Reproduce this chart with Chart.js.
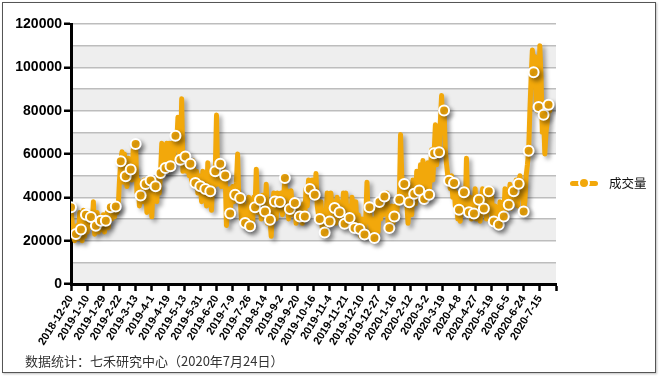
<!DOCTYPE html>
<html><head><meta charset="utf-8">
<script src="https://cdn.jsdelivr.net/npm/chart.js@4/dist/chart.umd.min.js"></script>
<style>
html,body{margin:0;padding:0;background:#fff;}
#wrap{position:relative;width:659px;height:378px;overflow:hidden;background:#fff;}
#c{position:absolute;left:0;top:0;}
#frame{position:absolute;left:2px;top:2px;width:652px;height:369px;border:1.5px solid #555;pointer-events:none;box-shadow:1px 1px 2px rgba(0,0,0,0.25);}
#footer{position:absolute;left:25px;top:352px;font-family:"Noto Sans CJK SC",sans-serif;font-size:13px;line-height:18px;color:#333;white-space:nowrap;}
#legend{position:absolute;left:570px;top:174px;height:18px;display:flex;align-items:center;}
#sym{position:relative;width:28px;height:18px;}
#sym .ln{position:absolute;left:0;top:6.5px;width:28px;height:5px;border-radius:2.5px;background:#F2A80B;}
#sym .pt{position:absolute;left:8px;top:3px;width:8px;height:8px;border-radius:50%;background:#F2A80B;border:2px solid #fff;}
#legtext{margin-left:11px;font-family:"Noto Sans CJK SC",sans-serif;font-size:12.5px;color:#111;line-height:18px;}
</style></head>
<body>
<div id="wrap">
<canvas id="c" width="659" height="378"></canvas>
<div id="frame"></div>
<div id="legend"><div id="sym"><div class="ln"></div><div class="pt"></div></div><span id="legtext"></span></div>
<div id="footer">数据统计：七禾研究中心（2020年7月24日）</div>
</div>
<script>
const seriesName = '成交量';
const tickLabels = ['2018-12-20','2019-1-10','2019-1-29','2019-2-22','2019-3-13','2019-4-1','2019-4-19','2019-5-13','2019-5-31','2019-6-20','2019-7-9','2019-7-26','2019-8-14','2019-9-2','2019-9-20','2019-10-16','2019-11-4','2019-11-21','2019-12-10','2019-12-27','2020-1-16','2020-2-12','2020-3-2','2020-3-19','2020-4-8','2020-4-27','2020-5-19','2020-6-5','2020-6-24','2020-7-15'];
const volume = [
35400,28000,22000,20000, 23100,27000,21000,33000, 25100,20000,34000,22000, 32000,24000,33000,26000,
30900,27000,38000,23000, 26900,33000,24000,31000, 29200,25000,32000,24000, 29200,33000,26000,34000,
35400,30000,36000,31000, 35800,33000,36000,48000, 56600,61000,47000,60000, 49700,45000,58000,52000,
52800,48000,62000,56000, 64600,42000,48000,36000, 40900,47000,38000,48000, 46100,33000,47000,36000,
47800,31000,45000,40000, 45100,38000,50000,42000, 51200,65000,50000,64000, 53500,65000,52000,65000,
54300,65000,55000,64000, 68400,65000,77000,58000, 57400,85500,52000,60000, 58900,52000,58000,50000,
55500,47000,57000,49000, 46600,52000,42000,50000, 45100,38000,52000,40000, 43800,36000,56000,40000,
42800,34000,50000,45000, 52000,78000,46000,56000, 55500,45000,54000,47000, 50100,27000,36000,44000,
32500,40000,45000,38000, 41200,47000,60000,38000, 39700,30000,40000,27000, 28100,36000,26000,40000,
26600,32000,28000,40000, 35400,53000,33000,40000, 38900,30000,41000,32000, 33500,46000,28000,36000,
29700,22000,34000,42000, 38100,30000,42000,34000, 37800,42000,32000,40000, 48900,36000,43000,30000,
34600,43000,32000,39000, 37400,28000,36000,30000, 31200,35000,28000,37000, 31200,44000,36000,48000,
43800,40000,48000,42000, 41200,51000,36000,32000, 30000,38000,26000,34000, 23800,30000,42000,27000,
28900,42000,33000,38000, 35100,28000,40000,31000, 33100,38000,27000,42000, 27800,42000,30000,36000,
30500,26000,40000,28000, 25800,38000,25000,32000, 25400,22000,30000,24000, 22800,30000,47000,30000,
35400,26000,22000,30000, 21200,28000,36000,24000, 37800,30000,40000,32000, 40400,34000,42000,28000,
25800,30000,36000,28000, 31200,36000,33000,40000, 38900,69000,50000,40000, 46100,42000,38000,28000,
37700,44000,32000,48000, 41700,37000,52000,40000, 43100,55000,40000,57000, 39200,50000,42000,56000,
41200,52000,62000,48000, 60400,73500,55000,62000, 60800,75000,87000,72000, 80100,62000,55000,50000,
47700,44000,50000,40000, 46600,36000,42000,30000, 34300,29000,38000,44000, 42300,34000,58000,36000,
33100,40000,30000,38000, 32500,44000,30000,40000, 38900,29000,36000,44000, 34800,42000,30000,38000,
42800,34000,44000,30000, 28900,36000,27000,33000, 27400,38000,30000,36000, 31200,44000,34000,40000,
36600,46000,35000,44000, 42800,38000,48000,36000, 46300,50000,40000,45000, 33500,38000,50000,55000,
61500,80000,95000,108000, 97700,105000,85000,80000, 81700,110000,95000,70000, 78100,60000,70000,75000,
82700,80000
];

document.getElementById('legtext').textContent = seriesName;

const ORANGE = '#F2A80B';
const LABEL_EVERY = 13;
const AXIS_END = 390;

const bands = {
  id: 'bands',
  beforeDraw(chart) {
    const {ctx, chartArea: a, scales: {y}} = chart;
    ctx.save();
    ctx.fillStyle = '#EEEEEE';
    for (let v = 0; v < y.max; v += 20000) {
      const y1 = y.getPixelForValue(v), y2 = y.getPixelForValue(v + 10000);
      ctx.fillRect(a.left, y2, a.right - a.left, y1 - y2);
    }
    ctx.restore();
  }
};
const shadow = {
  id: 'shadow',
  beforeDatasetDraw(chart) {
    const c = chart.ctx;
    c.save();
    c.shadowColor = 'rgba(0,0,0,0.35)';
    c.shadowBlur = 4;
    c.shadowOffsetX = 3;
    c.shadowOffsetY = 3;
  },
  afterDatasetDraw(chart) { chart.ctx.restore(); }
};

const tickFont = {family: '"Liberation Sans", Arial, sans-serif', weight: 'bold'};

new Chart(document.getElementById('c'), {
  type: 'line',
  data: {
    datasets: [{
      label: seriesName,
      data: volume.map((v, i) => ({x: i, y: v})),
      borderColor: ORANGE,
      backgroundColor: ORANGE,
      borderWidth: 5,
      borderJoinStyle: 'round',
      borderCapStyle: 'round',
      tension: 0,
      fill: false,
      pointRadius: c => (c.dataIndex % 4 === 0 ? 5 : 0),
      pointHoverRadius: c => (c.dataIndex % 4 === 0 ? 5 : 0),
      pointBorderColor: '#fff',
      pointBorderWidth: 2,
      pointBackgroundColor: ORANGE
    }]
  },
  options: {
    responsive: false,
    animation: false,
    events: [],
    layout: {padding: {left: 0, right: 103, top: 24, bottom: 0}},
    plugins: {legend: {display: false}, tooltip: {enabled: false}},
    scales: {
      x: {
        type: 'linear', min: 0, max: AXIS_END,
        afterBuildTicks: s => {
          const t = tickLabels.map((_, i) => ({value: i * LABEL_EVERY}));
          t.push({value: AXIS_END});
          s.ticks = t;
        },
        ticks: {
          autoSkip: false, maxRotation: 58, minRotation: 58, padding: 2,
          font: Object.assign({size: 11}, tickFont), color: '#000',
          callback: v => tickLabels[v / LABEL_EVERY] ?? ''
        },
        grid: {drawOnChartArea: false, drawTicks: true, tickLength: 7, tickColor: '#000', tickWidth: 2.5},
        border: {color: '#000', width: 3},
        afterFit: s => { s.height = 94; }
      },
      y: {
        min: 0, max: 120000,
        ticks: {
          stepSize: 10000, padding: 2,
          font: Object.assign({size: 14}, tickFont), color: '#000',
          callback: v => (v % 20000 === 0 ? String(v) : '')
        },
        grid: {
          color: '#BDBDBD', lineWidth: 1.5, tickLength: 7, tickWidth: 2.5,
          tickColor: c => (c.tick && c.tick.value % 20000 === 0 ? '#000' : 'rgba(0,0,0,0)')
        },
        border: {color: '#000', width: 3},
        afterFit: s => { s.width = 71; }
      }
    }
  },
  plugins: [bands, shadow]
});
</script>
</body></html>
